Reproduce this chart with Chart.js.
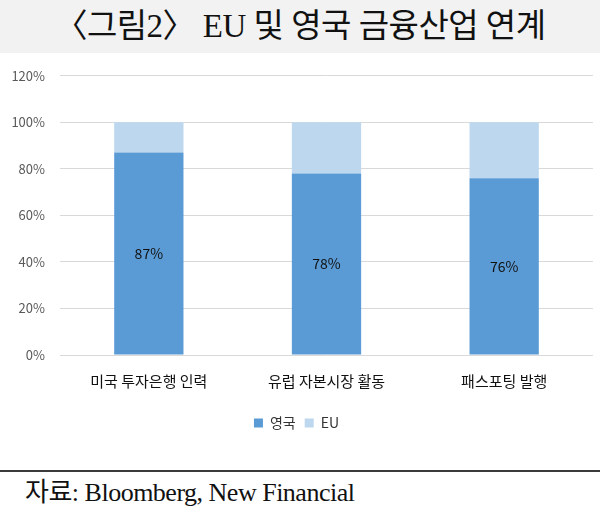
<!DOCTYPE html>
<html><head><meta charset="utf-8">
<script src="https://cdn.jsdelivr.net/npm/chart.js@4"></script>
<style>
html,body{margin:0;padding:0;background:#fff;width:600px;height:514px;overflow:hidden}
#title{position:absolute;left:0;top:0;width:600px;height:53px;background:#f2f2f2;text-align:center;
 font-family:'Liberation Serif','Noto Sans CJK KR',serif;font-size:33px;line-height:53px;color:#111;letter-spacing:-0.5px}
#wrap{position:absolute;left:0;top:53px;width:600px;height:407px}
#rule{position:absolute;left:0;top:470px;width:600px;height:2px;background:#3a3a3a}
#src{position:absolute;left:25px;top:476px;font-family:'Liberation Serif','Noto Sans CJK KR',serif;font-size:26px;line-height:34px;color:#111;letter-spacing:-0.5px}
</style></head><body>
<div id="title">〈그림2〉 EU 및 영국 금융산업 연계</div>
<div id="wrap"><canvas id="c" width="600" height="407"></canvas></div>
<div id="rule"></div>
<div id="src">자료: Bloomberg, New Financial</div>
<script>
const categories = ['미국 투자은행 인력', '유럽 자본시장 활동', '패스포팅 발행'];
const ukValues = [87, 78, 76];
const euValues = [13, 22, 24];
const seriesNames = ['영국', 'EU'];
const yTicks = [0, 20, 40, 60, 80, 100, 120];

const fontFam = "'Noto Sans CJK KR','Noto Sans',sans-serif";

const labelPlugin = {
  id: 'barLabels',
  afterDatasetsDraw(chart) {
    const ctx = chart.ctx;
    const meta = chart.getDatasetMeta(0);
    ctx.save();
    ctx.font = "14px " + fontFam;
    ctx.fillStyle = '#111';
    ctx.textAlign = 'center';
    ctx.textBaseline = 'middle';
    meta.data.forEach((el, i) => {
      const p = el.getCenterPoint();
      ctx.fillText(ukValues[i] + '%', p.x, p.y);
    });
    ctx.restore();
  }
};

new Chart(document.getElementById('c'), {
  type: 'bar',
  data: {
    labels: categories,
    datasets: [
      { label: seriesNames[0], data: ukValues, backgroundColor: '#5b9bd5', barPercentage: 0.39, categoryPercentage: 1 },
      { label: seriesNames[1], data: euValues, backgroundColor: '#bdd7ee', barPercentage: 0.39, categoryPercentage: 1 }
    ]
  },
  options: {
    responsive: false,
    animation: false,
    events: [],
    layout: { padding: { left: 0, right: 7, top: 16, bottom: 20 } },
    plugins: {
      legend: {
        position: 'bottom',
        labels: { boxWidth: 9, boxHeight: 9, padding: 9, color: '#333', font: { family: fontFam, size: 14 } }
      },
      tooltip: { enabled: false }
    },
    scales: {
      x: {
        stacked: true,
        grid: { display: false, drawTicks: false },
        border: { display: false },
        ticks: { color: '#111', padding: 17, font: { family: fontFam, size: 15 } }
      },
      y: {
        stacked: true,
        min: 0, max: 120,
        afterFit(scale) { scale.width = 60; },
        afterBuildTicks(scale) { scale.ticks = yTicks.map(v => ({ value: v })); },
        grid: { color: '#d9d9d9', lineWidth: 1, drawTicks: false },
        border: { display: false },
        ticks: { color: '#595959', padding: 15, font: { family: fontFam, size: 13 }, callback: v => v + '%' }
      }
    }
  },
  plugins: [labelPlugin]
});
</script>
</body></html>
